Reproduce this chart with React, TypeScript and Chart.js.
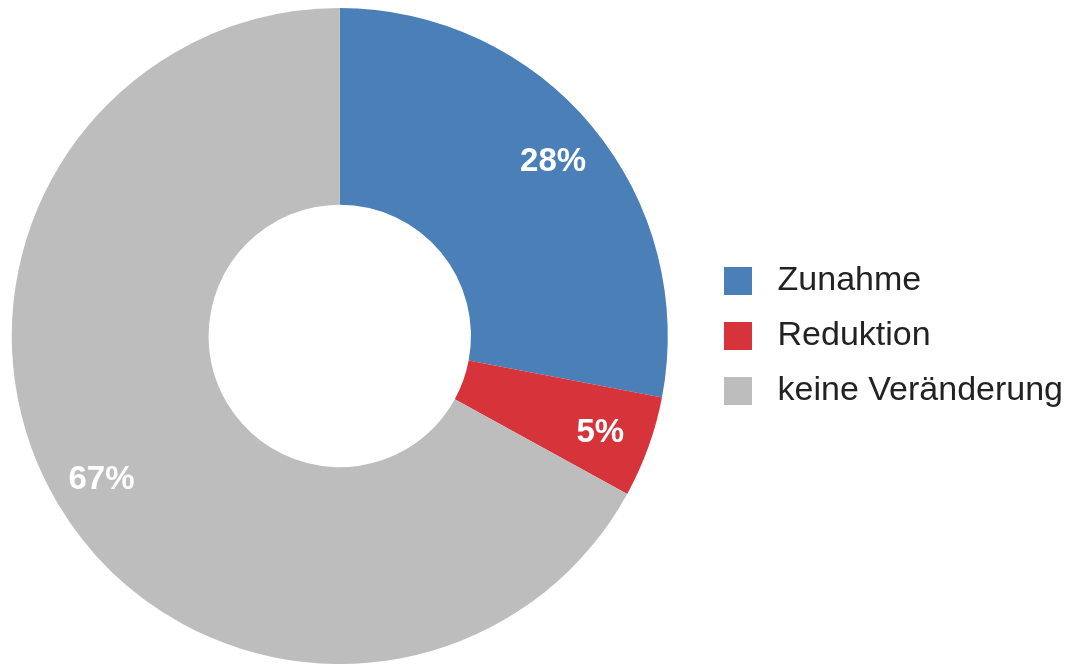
import React, { useEffect, useRef } from 'react';
import { Chart, registerables } from 'chart.js';

Chart.register(...registerables);

const categories = ['Zunahme', 'Reduktion', 'keine Veränderung'];
const shares = [28, 5, 67];
const colors = ['#4a7fb8', '#d6333a', '#bdbdbd'];

const FONT = '"Liberation Sans", Arial, Helvetica, sans-serif';

function makeSwatch(color: string): HTMLCanvasElement {
  const c = document.createElement('canvas');
  c.width = 28;
  c.height = 28;
  const ctx = c.getContext('2d')!;
  ctx.fillStyle = color;
  ctx.fillRect(0, 0, 28, 28);
  return c;
}

const sliceLabels = {
  id: 'sliceLabels',
  afterDatasetsDraw(chart: any) {
    const ctx = chart.ctx;
    const meta = chart.getDatasetMeta(0);
    const size = 33;
    ctx.save();
    ctx.font = `bold ${size}px ${FONT}`;
    ctx.fillStyle = '#ffffff';
    ctx.textAlign = 'center';
    ctx.textBaseline = 'alphabetic';
    meta.data.forEach((arc: any, i: number) => {
      const p = arc.getProps(['x', 'y', 'startAngle', 'endAngle', 'innerRadius', 'outerRadius'], true);
      const a = (p.startAngle + p.endAngle) / 2;
      const r = p.innerRadius + (p.outerRadius - p.innerRadius) * 0.74;
      const cx = p.x + Math.cos(a) * r;
      const cy = p.y + Math.sin(a) * r;
      ctx.fillText(`${shares[i]}%`, cx, cy + size * 0.358);
    });
    ctx.restore();
  },
};

export default function App() {
  const ref = useRef<HTMLCanvasElement | null>(null);

  useEffect(() => {
    if (!ref.current) return;
    const swatches = colors.map(makeSwatch);
    const chart = new Chart(ref.current, {
      type: 'doughnut',
      data: {
        labels: categories,
        datasets: [
          {
            data: shares,
            backgroundColor: colors,
            borderWidth: 0,
          },
        ],
      },
      options: {
        responsive: true,
        maintainAspectRatio: false,
        animation: false,
        cutout: '40%',
        layout: { padding: { left: 0, right: 0, top: 8, bottom: 2 } },
        plugins: {
          tooltip: { enabled: false },
          legend: {
            position: 'right',
            align: 'center',
            labels: {
              usePointStyle: true,
              pointStyleWidth: 46,
              boxHeight: 28,
              padding: 21,
              color: '#222222',
              font: { size: 34, family: FONT },
              generateLabels: () =>
                categories.map((t, i) => ({
                  text: t,
                  fillStyle: colors[i],
                  strokeStyle: colors[i],
                  lineWidth: 0,
                  pointStyle: swatches[i],
                  hidden: false,
                  index: i,
                  fontColor: '#222222',
                })),
            },
          },
        },
      } as any,
      plugins: [sliceLabels],
    });
    return () => chart.destroy();
  }, []);

  return (
    <div style={{ position: 'fixed', left: -14, top: 0, width: 1087, height: 666, background: '#fff' }}>
      <canvas ref={ref} />
    </div>
  );
}
